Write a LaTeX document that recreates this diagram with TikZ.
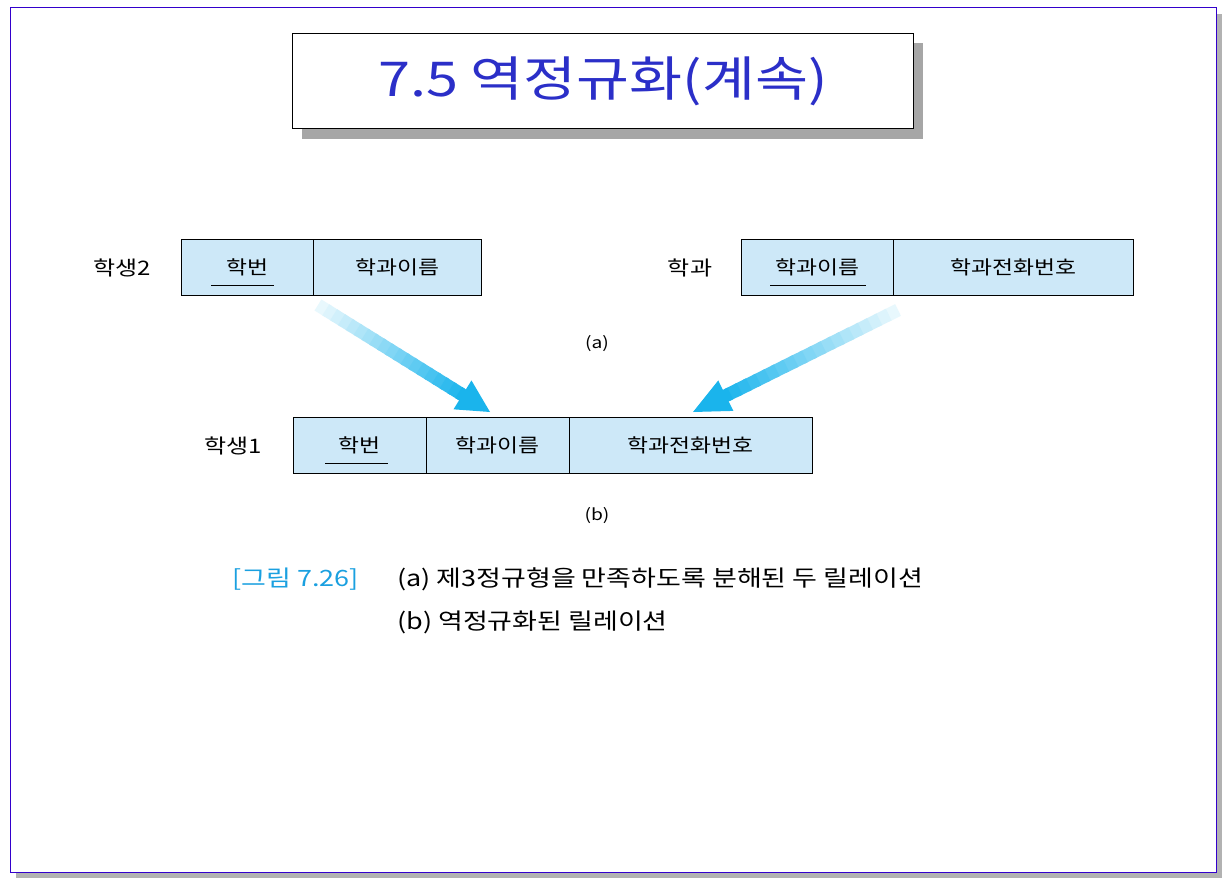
\documentclass[tikz,border=0pt]{standalone}
\usepackage{fontspec}
\setmainfont[FakeStretch=1.2]{Noto Sans CJK KR}
\usetikzlibrary{arrows.meta,calc}
\definecolor{cellb}{HTML}{CDE8F8}
\definecolor{titleb}{HTML}{2B2FC8}
\definecolor{capb}{HTML}{1AA0E0}
\definecolor{arr}{HTML}{1AB4EC}
\begin{document}
\begin{tikzpicture}[x=1pt,y=-1pt,
  cell/.style={draw=black,fill=cellb,line width=0.8pt,minimum height=56pt,inner sep=0pt,font=\fontsize{19}{22}\selectfont},
  lbl/.style={font=\fontsize{20}{22}\selectfont},
  tx/.style={font=\fontsize{22.5}{26}\selectfont,anchor=west,inner sep=0pt}]
\useasboundingbox (0,0) rectangle (1226,880);
\fill[gray!60] (16,14) rectangle (1222,878);
\draw[fill=white,draw=blue!60!violet,line width=1pt] (10,8) rectangle (1216,872);
\fill[gray!70] (302,43) rectangle (923,139);
\node[draw=black,fill=white,line width=1pt,minimum width=621pt,minimum height=95pt,anchor=north west,inner sep=0pt] (title) at (292,33) {};
\node[text=titleb,font=\fontsize{48}{52}\selectfont] at (title.center) {7.5 역정규화(계속)};
% 학생2
\node[lbl] (l2) at (122,268) {학생2};
\node[cell,minimum width=132pt,anchor=north west] (s2a) at (181,239) {학번};
\node[cell,minimum width=168pt,anchor=north west] (s2b) at (313,239) {학과이름};
\draw[line width=0.8pt] (211,285) -- (274,285);
% 학과
\node[lbl] (ld) at (690,268) {학과};
\node[cell,minimum width=152pt,anchor=north west] (da) at (741,239) {학과이름};
\node[cell,minimum width=240pt,anchor=north west] (db) at (893,239) {학과전화번호};
\draw[line width=0.8pt] (770,285) -- (866,285);
\node[font=\fontsize{16}{18}\selectfont] (a) at (597,344) {(a)};
% 학생1
\node[lbl] (l1) at (233,446) {학생1};
\node[cell,minimum width=133pt,anchor=north west] (t1) at (293,417) {학번};
\node[cell,minimum width=143pt,anchor=north west] (t2) at (426,417) {학과이름};
\node[cell,minimum width=243pt,anchor=north west] (t3) at (569,417) {학과전화번호};
\draw[line width=0.8pt] (325,463) -- (388,463);
\node[font=\fontsize{16}{18}\selectfont] (b) at (597,516) {(b)};
% arrows
\coordinate (A1) at (318,305); \coordinate (B1) at (490,412);
\coordinate (A2) at (898,310); \coordinate (B2) at (693,412);
\foreach \i in {0,...,18}{
  \pgfmathsetmacro\p{10+5*\i}
  \pgfmathsetmacro\s{\i/22}
  \pgfmathsetmacro\e{min(\i/22+0.06,0.87)}
  \draw[line width=13pt,draw=arr!\p!white] ($(A1)!\s!(B1)$) -- ($(A1)!\e!(B1)$);
  \draw[line width=13pt,draw=arr!\p!white] ($(A2)!\s!(B2)$) -- ($(A2)!\e!(B2)$);
}
\path ($(A1)!0.84!(B1)$) coordinate (h1);
\fill[arr] (B1) -- ($(h1)!17pt!90:(B1)$) -- ($(h1)!17pt!-90:(B1)$) -- cycle;
\path ($(A2)!0.84!(B2)$) coordinate (h2);
\fill[arr] (B2) -- ($(h2)!17pt!90:(B2)$) -- ($(h2)!17pt!-90:(B2)$) -- cycle;
% caption
\node[tx,text=capb] (c0) at (232,579) {[그림 7.26]};
\node[tx] (c1) at (397,579) {(a) 제3정규형을 만족하도록 분해된 두 릴레이션};
\node[tx] (c2) at (397,622) {(b) 역정규화된 릴레이션};
\end{tikzpicture}
\end{document}
